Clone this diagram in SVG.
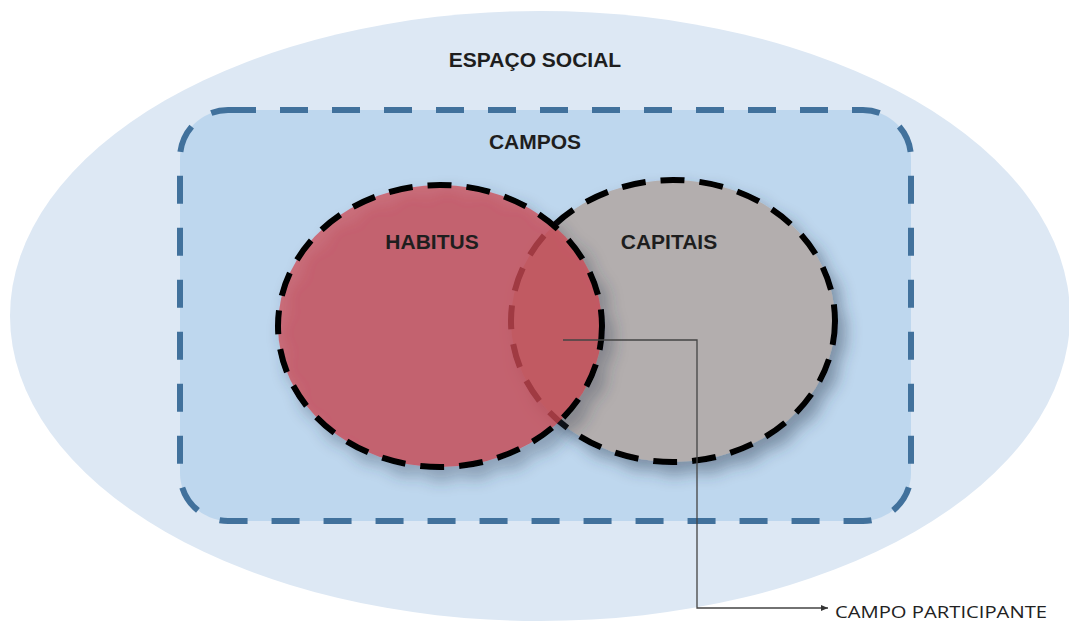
<svg xmlns="http://www.w3.org/2000/svg" width="1069" height="621" viewBox="0 0 1069 621">
  <style>
    .lbl { font-family: "Liberation Sans", Arial, sans-serif; font-weight: bold; font-size: 21px; fill: #1e1e1e; text-anchor: middle; }
    .note { font-family: "Open Sans", "Liberation Sans", sans-serif; font-size: 17px; fill: #222; }
    .set { stroke: #000; stroke-width: 6; stroke-dasharray: 24 15; }
    .conn { fill: none; stroke: #444; stroke-width: 1.3; }
  </style>
  <defs>
    <filter id="shadow" x="-20%" y="-20%" width="150%" height="150%">
      <feDropShadow dx="8" dy="10" stdDeviation="8" flood-color="#2a3a50" flood-opacity="0.45"/>
    </filter>
    <marker id="arrow" markerWidth="8" markerHeight="8" refX="7" refY="4" orient="auto" markerUnits="userSpaceOnUse">
      <path d="M0,1 L7,4 L0,7 Z" fill="#333"/>
    </marker>
  </defs>
  <rect width="1069" height="621" fill="#ffffff"/>

  <g id="espaco-social">
    <ellipse cx="540" cy="316" rx="530" ry="305" fill="#dde8f4"/>
    <text class="lbl" x="535" y="67">ESPAÇO SOCIAL</text>
  </g>

  <g id="campos">
    <rect x="180" y="110" width="731" height="411" rx="48" ry="48" fill="#bed7ee" stroke="#41719c" stroke-width="6" stroke-dasharray="28 24"/>
    <text class="lbl" x="535" y="149">CAMPOS</text>
  </g>

  <g id="capitais">
    <ellipse class="set" cx="673" cy="321" rx="162" ry="141" fill="#b3aeae" filter="url(#shadow)"/>
    <text class="lbl" x="669" y="249">CAPITAIS</text>
  </g>

  <g id="habitus">
    <ellipse class="set" cx="440" cy="326" rx="162" ry="141" fill="#cf4650" fill-opacity="0.72" filter="url(#shadow)"/>
    <text class="lbl" x="432" y="249">HABITUS</text>
  </g>

  <g id="connectors">
    <polyline class="conn" points="563,340 697,340 697,608 828,608" marker-end="url(#arrow)"/>
  </g>

  <g id="campo-participante">
    <text class="note" x="835" y="618" textLength="212" lengthAdjust="spacingAndGlyphs">CAMPO PARTICIPANTE</text>
  </g>
</svg>
